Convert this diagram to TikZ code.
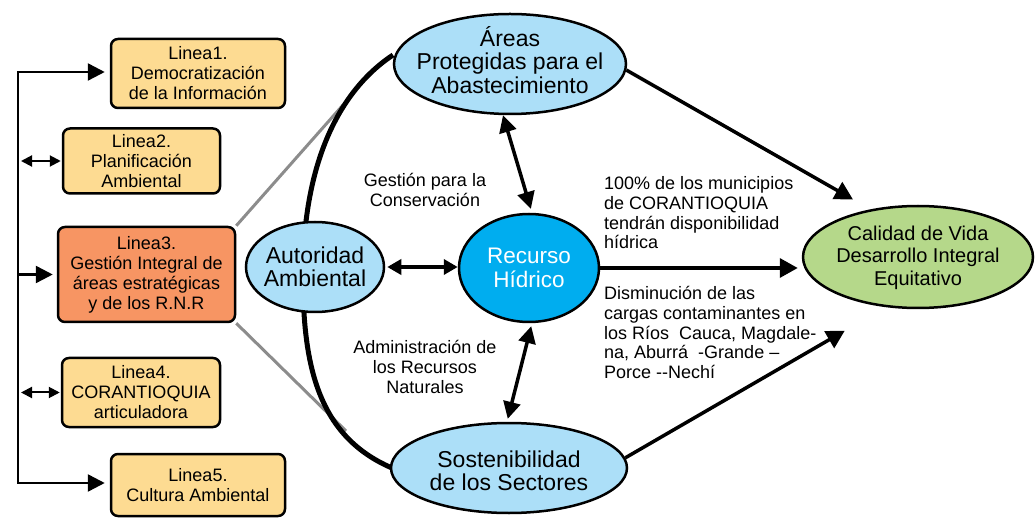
\documentclass[tikz,border=0pt]{standalone}
\usepackage{fontspec}
\setmainfont{Liberation Sans}
\usetikzlibrary{arrows.meta,shapes.geometric}
\definecolor{boxfill}{HTML}{FDDB92}
\definecolor{orangefill}{HTML}{F79563}
\definecolor{lblue}{HTML}{ACDFF8}
\definecolor{dblue}{HTML}{00ADEF}
\definecolor{lgreen}{HTML}{B5D88A}
\definecolor{grayline}{HTML}{8C8C8C}
\newcommand\zbox[2][9pt]{\makebox[0pt]{\raisebox{-#1}[0pt][0pt]{\begin{tabular}{@{}c@{}}#2\end{tabular}}}}
\begin{document}
\begin{tikzpicture}[x=1pt,y=-1pt,
  linebox/.style={draw=black, line width=2.5pt, rounded corners=7pt, fill=boxfill,
    align=center, inner sep=0pt, font=\fontsize{18}{20}\selectfont},
  ell/.style={ellipse, draw=black, line width=2.5pt, fill=lblue, inner sep=0pt,
    font=\fontsize{23}{23.5}\selectfont},
  lbl/.style={align=center, inner sep=0pt, font=\fontsize{18}{19.7}\selectfont},
  lblleft/.style={align=left, inner sep=0pt, anchor=west, font=\fontsize{18}{19.7}\selectfont},
  bigarr/.style={line width=3.5pt, -{Triangle[length=18pt,width=19pt]}},
  darr/.style={line width=3.5pt, {Triangle[length=17pt,width=17pt]}-{Triangle[length=17pt,width=17pt]}},
  harr/.style={line width=3.5pt, {Triangle[length=14pt,width=15pt]}-{Triangle[length=14pt,width=15pt]}},
  brkarr/.style={line width=2.5pt, -{Triangle[length=17pt,width=17pt]}},
  smalldarr/.style={line width=2pt, {Triangle[length=11pt,width=11pt]}-{Triangle[length=11pt,width=11pt]}},
  grayln/.style={draw=grayline, line width=3pt},
  bigcurve/.style={line width=5pt}
]
\useasboundingbox (0,0) rectangle (1036,518);

% connector coordinates
\coordinate (bt) at (18,72);
\coordinate (bb) at (18,483);
\coordinate (g1) at (343,105);
\coordinate (g2) at (346,431);
\coordinate (c0) at (393,55);
\coordinate (cm) at (303,266);
\coordinate (c1) at (392,468);

% boxes
\node[linebox, minimum width=174pt, minimum height=69pt] (l1) at (198,73.5) {Linea1.\\Democratización\\de la Información};
\node[linebox, minimum width=157pt, minimum height=65pt] (l2) at (141.5,161) {Linea2.\\Planificación\\Ambiental};
\node[linebox, fill=orangefill, minimum width=177pt, minimum height=95pt] (l3) at (146.5,274.5) {Linea3.\\Gestión Integral de\\áreas estratégicas\\y de los R.N.R};
\node[linebox, minimum width=158pt, minimum height=69pt] (l4) at (141,392.5) {Linea4.\\CORANTIOQUIA\\articuladora};
\node[linebox, minimum width=174pt, minimum height=62pt] (l5) at (198,485) {Linea5.\\Cultura Ambiental};

% gray lines and big curve (behind ellipses)
\draw[grayln] (l3.north east) -- (g1);
\draw[grayln] (l3.south east) -- (g2);
\draw[bigcurve] (c0) .. controls (340,90) and (305,160) .. (cm) .. controls (302,360) and (315,435) .. (c1);

% ellipses
\node[ell, minimum width=232pt, minimum height=100pt] (areas) at (510,64) {\zbox[5.7pt]{Áreas\\Protegidas para el\\Abastecimiento}};
\node[ell, minimum width=138pt, minimum height=90pt] (autoridad) at (315,267) {\zbox[9.5pt]{Autoridad\\Ambiental}};
\node[ell, fill=dblue, text=white, minimum width=140pt, minimum height=108pt, font=\fontsize{22.5}{24}\selectfont] (recurso) at (529,268) {\zbox[8pt]{Recurso\\Hídrico}};
\node[ell, minimum width=236pt, minimum height=90pt] (sost) at (509,468) {\zbox[12.5pt]{Sostenibilidad\\de los Sectores}};
\node[ell, fill=lgreen, minimum width=230pt, minimum height=102pt, font=\fontsize{20}{22.5}\selectfont] (calidad) at (918,257) {\zbox[6.5pt]{Calidad de Vida\\Desarrollo Integral\\Equitativo}};

% labels
\node[lbl] (gestion) at (425,190) {Gestión para la\\Conservación};
\node[lbl] (admin) at (425,367) {Administración de\\los Recursos\\Naturales};
\node[lblleft] (pct) at (604,213) {100\% de los municipios\\de CORANTIOQUIA\\tendrán disponibilidad\\hídrica};
\node[lblleft] (dism) at (604,332.5) {Disminución de las\\cargas contaminantes en\\los Ríos~ Cauca, Magdale-\\na, Aburrá~ -Grande –\\Porce -{}-Nechí};

% left bracket
\draw[line width=2.5pt, {Triangle[length=17pt,width=17pt]}-{Triangle[length=17pt,width=17pt]}, shorten <=5pt, shorten >=5pt]
  (bt -| l1.west) -- (bt) -- (bb) -- (bb -| l5.west);
\draw[brkarr, shorten >=4pt] (bt |- l3.west) -- (l3.west);
\draw[smalldarr, shorten <=3pt, shorten >=1pt] (bt |- l2.west) -- (l2.west);
\draw[smalldarr, shorten <=3pt, shorten >=1pt] (bt |- l4.west) -- (l4.west);

% central arrows
\draw[darr, shorten >=4pt] ([xshift=-7pt]areas.south) -- ([xshift=3pt]recurso.north);
\draw[darr, shorten <=3pt, shorten >=3pt] ([xshift=3pt]recurso.south) -- ([xshift=-2pt]sost.north);
\draw[harr, shorten <=2pt] (autoridad.east) -- (autoridad.east -| recurso.west);

% arrows to Calidad de Vida
\draw[bigarr, shorten >=20pt] (areas.-3) -- (calidad.135);
\draw[bigarr, shorten >=4pt] (recurso.east) -- (recurso.east -| calidad.west);
\draw[bigarr, shorten >=47pt] (sost.5) -- (calidad.237);
\end{tikzpicture}
\end{document}
